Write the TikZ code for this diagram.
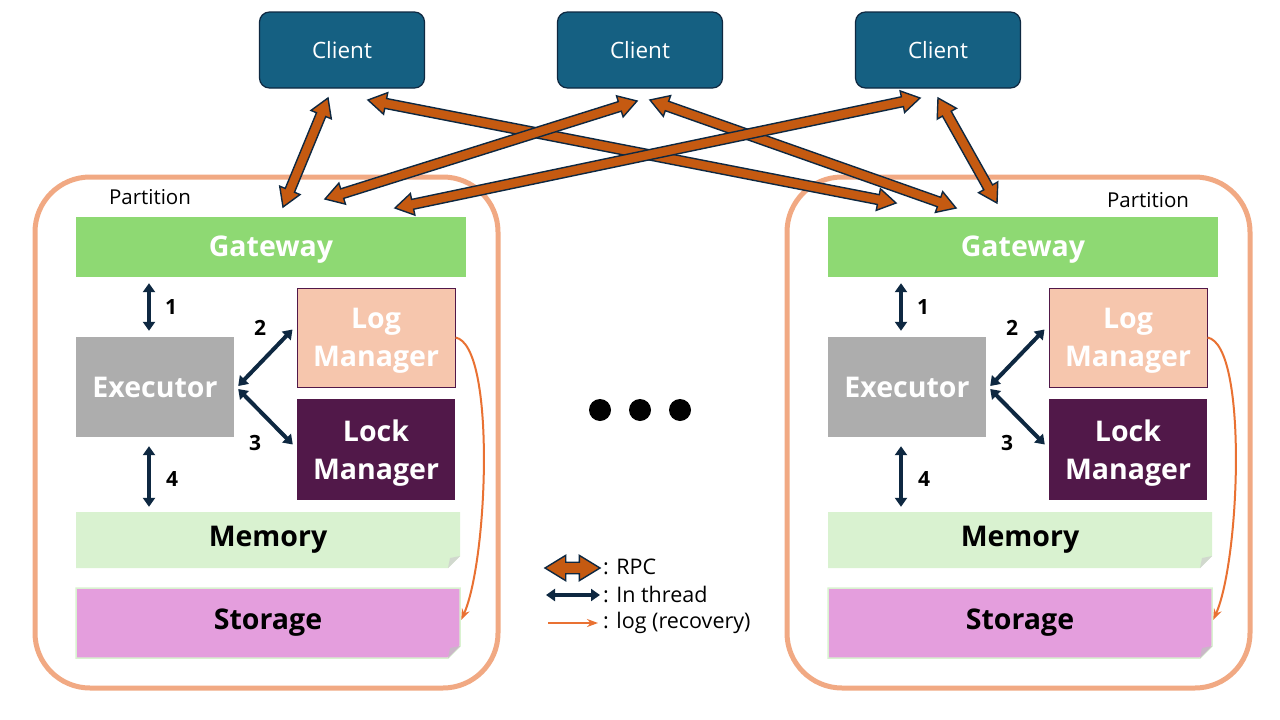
\documentclass[tikz,border=0pt]{standalone}
\usepackage{fontspec}
\setmainfont{Open Sans}
\usetikzlibrary{arrows.meta,calc}
\definecolor{col_156082}{RGB}{21,96,130}
\definecolor{col_0E2841}{RGB}{14,40,65}
\definecolor{col_C55A11}{RGB}{197,90,17}
\definecolor{col_F1A983}{RGB}{241,169,131}
\definecolor{col_8ED973}{RGB}{142,217,115}
\definecolor{col_ADADAD}{RGB}{173,173,173}
\definecolor{col_F6C6AD}{RGB}{246,198,173}
\definecolor{col_511849}{RGB}{81,24,73}
\definecolor{col_D9F2D0}{RGB}{217,242,208}
\definecolor{col_E49EDD}{RGB}{228,158,221}
\definecolor{col_E97132}{RGB}{233,113,50}
\tikzset{
  box/.style={minimum width=158pt, minimum height=100pt, inner sep=0pt, align=center,
    text=white, font=\fontsize{28.5}{38}\selectfont\bfseries},
  client/.style={minimum width=165pt, minimum height=76pt, rounded corners=10pt,
    fill=col_156082, draw=col_0E2841, line width=1.2pt, text=white,
    font=\fontsize{22.5}{22.5}\selectfont},
  thread/.style={col_0E2841, line width=4pt,
    {Triangle[length=9pt,width=12pt]}-{Triangle[length=9pt,width=12pt]}},
  logline/.style={col_E97132, line width=2pt, -{Stealth[length=11pt,width=8pt]}},
  num/.style={inner sep=0pt, font=\fontsize{21}{21}\selectfont\bfseries},
  legend/.style={anchor=west, inner sep=0pt, font=\fontsize{21.5}{21.5}\selectfont}
}
%% block arrow with two heads, from #2 to #3, #1 = size
\newcommand{\tikzdrawrpc}[3][1]{%
\filldraw[fill=col_C55A11, draw=col_0E2841, line width=1.4pt]
  (#2) -- ($(#2)!#1*21.10pt!31.43:(#3)$) -- ($(#2)!#1*18.68pt!15.52:(#3)$)
  -- ($(#3)!#1*18.68pt!-15.52:(#2)$) -- ($(#3)!#1*21.10pt!-31.43:(#2)$) -- (#3)
  -- ($(#3)!#1*21.10pt!31.43:(#2)$) -- ($(#3)!#1*18.68pt!15.52:(#2)$)
  -- ($(#2)!#1*18.68pt!-15.52:(#3)$) -- ($(#2)!#1*21.10pt!-31.43:(#3)$) -- cycle;
}
%% one partition, #1 = x offset, #2 = name prefix
\newcommand{\tikzdrawpartition}[2]{%
\begin{scope}[xshift=#1pt]
\draw[col_F1A983, line width=5pt, rounded corners=55pt] (35,177) rectangle (498,688);
\node[box, fill=col_8ED973, minimum width=390pt, minimum height=60pt, text depth=2pt] (#2gw) at (271,247) {Gateway};
\node[box, fill=col_ADADAD, text depth=-3pt] (#2ex) at (155,387) {Executor};
\node[box, fill=col_F6C6AD, draw=col_511849, line width=1pt, minimum height=99pt, text depth=-1pt] (#2log) at (376,337.5) {Log\\Manager};
\node[box, fill=col_511849, minimum height=101pt, text depth=-1pt] (#2lock) at (376,449.5) {Lock\\Manager};
\fill[col_D9F2D0] (76,512) -- (460,512) -- (460,556) -- (448,568) -- (76,568) -- cycle;
\fill[col_D9F2D0!70!black!45] (448,568) -- (450,558) -- (460,556) -- cycle;
\filldraw[fill=col_E49EDD, draw=col_D9F2D0, line width=1.5pt] (76,588) -- (460,588) -- (460,646) -- (448,658) -- (76,658) -- cycle;
\fill[col_E49EDD!60!black!45] (448,658) -- (450,648) -- (460,646) -- cycle;
\node[box, text=black, minimum width=384pt, minimum height=56pt] (#2mem) at (268,540) {Memory};
\node[box, text=black, minimum width=384pt, minimum height=70pt] (#2sto) at (268,623) {Storage};
\draw[thread] ($(#2ex.north)+(-6,-6)$) -- ($(#2ex.north |- #2gw.south)+(-6,6)$);
\draw[thread] ($(#2ex.east)+(4,-1)$) -- ($(#2log.west)+(-4,-8)$);
\draw[thread] ($(#2ex.east)+(4,2)$) -- ($(#2lock.west)+(-4,-5)$);
\draw[thread] ($(#2ex.south)+(-6,9)$) -- ($(#2ex.south |- #2mem.north)+(-6,-5)$);
\node[num] (#2n1) at (171,307) {1};
\node[num] (#2n2) at (260,328) {2};
\node[num] (#2n3) at (255,443) {3};
\node[num] (#2n4) at (172,479) {4};
\draw[logline] (#2log.east) .. controls (496,345) and (488,560) .. ($(#2sto.east)+(1,-3)$);
\end{scope}
}

\begin{document}
\begin{tikzpicture}[x=1pt, y=-1pt]
\useasboundingbox[fill=white] (0,0) rectangle (1280,720);
\tikzdrawpartition{0}{p1}
\tikzdrawpartition{752}{p2}
\node[inner sep=0pt, font=\fontsize{20.5}{20.5}\selectfont] (p1name) at (150,197) {Partition};
\node[inner sep=0pt, font=\fontsize{20.5}{20.5}\selectfont] (p2name) at (1148,200) {Partition};
%% clients
\node[client] (c1) at (342,50) {Client};
\node[client] (c2) at (640,50) {Client};
\node[client] (c3) at (938,50) {Client};
%% rpc ends
\coordinate (c1a) at (328,98);
\coordinate (c1b) at (368,100);
\coordinate (c2a) at (637,101);
\coordinate (c2b) at (650,100);
\coordinate (c3a) at (920,98);
\coordinate (c3b) at (938,98);
\coordinate (p1a) at (283,207);
\coordinate (p1b) at (325,199);
\coordinate (p1c) at (395,208);
\coordinate (p2a) at (896,203);
\coordinate (p2b) at (956,208);
\coordinate (p2c) at (997,203);
\tikzdrawrpc{c1a}{p1a}
\tikzdrawrpc{c1b}{p2a}
\tikzdrawrpc{c2a}{p1b}
\tikzdrawrpc{c2b}{p2b}
\tikzdrawrpc{c3a}{p1c}
\tikzdrawrpc{c3b}{p2c}
%% dots
\fill (600,410) circle[radius=11pt];
\fill (640,410) circle[radius=11pt];
\fill (680,410) circle[radius=11pt];
%% legend
\coordinate (l1a) at (545,568);
\coordinate (l1b) at (600,568);
\tikzdrawrpc[1.15]{l1a}{l1b}
\node[legend] (l1) at (603,567) {: RPC};
\coordinate (l2a) at (546,595);
\coordinate (l2b) at (600,595);
\draw[thread] (l2a) -- (l2b);
\node[legend] (l2) at (603,594) {: In thread};
\coordinate (l3a) at (548,623);
\coordinate (l3b) at (598,623);
\draw[logline] (l3a) -- (l3b);
\node[legend] (l3) at (603,623) {: log (recovery)};
\end{tikzpicture}
\end{document}
